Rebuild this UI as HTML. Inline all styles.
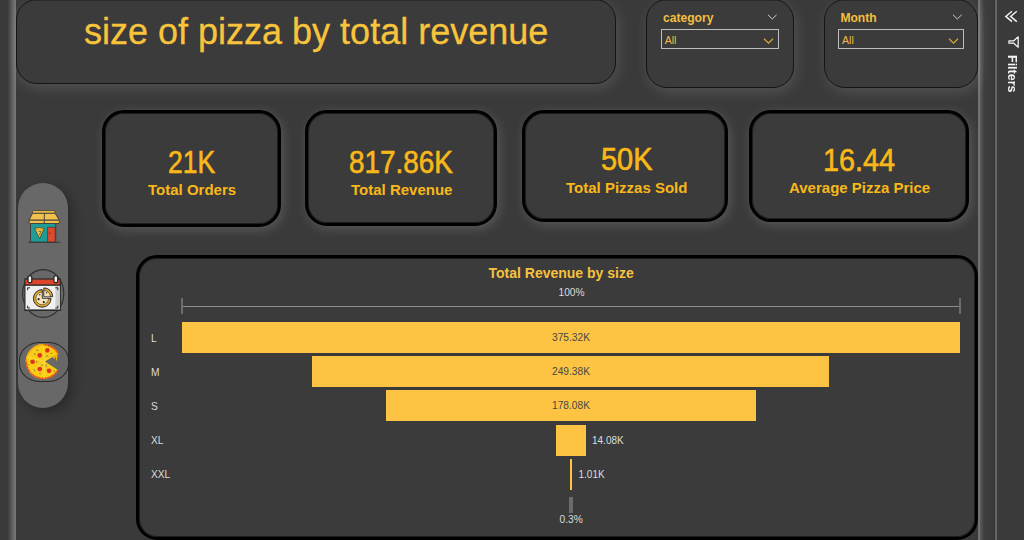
<!DOCTYPE html>
<html>
<head>
<meta charset="utf-8">
<style>
html,body{margin:0;padding:0;}
body{width:1024px;height:540px;overflow:hidden;background:#3a3a3a;position:relative;font-family:"Liberation Sans",sans-serif;}
.abs{position:absolute;}
#lstrip{left:0;top:0;width:16.4px;height:540px;background:linear-gradient(to right,#3a3a3a 0px,#3b3b3b 7.5px,#4a4a4a 9.5px,#626262 12.5px,#747474 15px,#7a7a7a 16.4px);}
#rstrip{left:977.5px;top:0;width:17.5px;height:540px;background:linear-gradient(to right,#606060 0px,#7a7a7a 0.8px,#727272 1.6px,#5c5c5c 2.2px,#4e4e4e 4px,#3d3d3d 6.3px,#3a3a3a 17.5px);}
#rline{left:995px;top:0;width:2px;height:540px;background:#666;box-shadow:-1px 0 0 #323232,1px 0 0 #323232;}
#fpane{left:997px;top:0;width:27px;height:540px;background:#3a3a3a;}
.box{box-sizing:border-box;border:1px solid #151515;background:#3b3b3b;}
#title{left:16px;top:-1px;width:600px;height:85px;border-radius:21px;box-shadow:2px 4px 14px rgba(255,255,255,0.13);}
#title span{position:absolute;left:67px;top:11px;font-size:36px;color:#f8c43c;-webkit-text-stroke:0.3px #f8c43c;white-space:nowrap;}
#slc1{left:646px;top:-1px;width:147.5px;height:89px;border-radius:21px;box-shadow:2px 4px 14px rgba(255,255,255,0.13);}
#slc2{left:824px;top:-1px;width:153.5px;height:89px;border-radius:21px;box-shadow:2px 4px 14px rgba(255,255,255,0.13);}
.slab{position:absolute;font-size:12.1px;font-weight:bold;color:#f4bf3f;top:11px;white-space:nowrap;}
.dd{position:absolute;box-sizing:border-box;border:1.5px solid #bdbdbd;height:20px;top:29px;}
.dd span{position:absolute;left:3px;top:4px;font-size:10.6px;color:#f0bd40;}
.card{box-sizing:border-box;border:3px solid #000;background:#3b3b3b;border-radius:22px;box-shadow:inset 0 0 0 1px rgba(0,0,0,0.5),2px 3px 12px rgba(255,255,255,0.16);}
.kv{position:absolute;font-size:30.5px;line-height:31px;-webkit-text-stroke:0.6px #f8b81a;color:#f8b81a;white-space:nowrap;transform-origin:0 0;}
.kl{position:absolute;font-size:15px;line-height:15px;font-weight:bold;color:#f8b81a;white-space:nowrap;}
#chart{left:136px;top:255px;width:842px;height:285px;box-sizing:border-box;border:3px solid #000;border-radius:21px;background:#3b3b3b;box-shadow:inset 0 0 0 1px rgba(0,0,0,0.5);}
.bar{position:absolute;background:#fdc343;height:31px;}
.cat{position:absolute;left:151px;font-size:10.2px;color:#dcdcdc;}
.val{position:absolute;font-size:10.2px;color:#474747;}
#pill{left:18px;top:182.5px;width:50px;height:225.5px;border-radius:25px;background:#686868;box-shadow:4px 4px 12px rgba(0,0,0,0.3);}
</style>
</head>
<body>
<div id="lstrip" class="abs"></div>
<div id="rstrip" class="abs"></div>
<div id="rline" class="abs"></div>
<div id="fpane" class="abs"></div>

<div class="abs" style="left:34px;top:0;width:564px;height:1px;background:rgba(0,0,0,0.28);z-index:2;"></div>
<div class="abs" style="left:664px;top:0;width:112px;height:1px;background:rgba(0,0,0,0.28);z-index:2;"></div>
<div class="abs" style="left:842px;top:0;width:118px;height:1px;background:rgba(0,0,0,0.28);z-index:2;"></div>
<div id="title" class="abs box"><span>size of pizza by total revenue</span></div>

<div id="slc1" class="abs box">
  <div class="slab" style="left:16px;">category</div>
  <svg class="abs" style="left:119.5px;top:13.5px" width="11" height="7" viewBox="0 0 11 7"><path d="M1 0.8 L5.3 5 L9.6 0.8" fill="none" stroke="#d0d0d0" stroke-width="1"/></svg>
  <div class="dd" style="left:13.7px;width:118.3px;"><span>All</span>
    <svg class="abs" style="left:101.5px;top:7.5px" width="12" height="7" viewBox="0 0 12 7"><path d="M1 0.8 L5.5 5.2 L10 0.8" fill="none" stroke="#d8a838" stroke-width="1.2"/></svg>
  </div>
</div>
<div id="slc2" class="abs box">
  <div class="slab" style="left:15.4px;">Month</div>
  <svg class="abs" style="left:126.5px;top:13.5px" width="11" height="7" viewBox="0 0 11 7"><path d="M1 0.8 L5.3 5 L9.6 0.8" fill="none" stroke="#d0d0d0" stroke-width="1"/></svg>
  <div class="dd" style="left:13px;width:126px;"><span>All</span>
    <svg class="abs" style="left:108.5px;top:7.5px" width="12" height="7" viewBox="0 0 12 7"><path d="M1 0.8 L5.5 5.2 L10 0.8" fill="none" stroke="#d8a838" stroke-width="1.2"/></svg>
  </div>
</div>

<!-- KPI cards -->
<div class="abs card" style="left:102px;top:110px;width:179px;height:117px;"></div>
<div class="abs card" style="left:305px;top:110px;width:192px;height:116px;"></div>
<div class="abs card" style="left:522px;top:110px;width:206px;height:112px;"></div>
<div class="abs card" style="left:749px;top:110px;width:220px;height:112px;"></div>
<div class="kv" style="left:168px;top:146.5px;transform:scaleX(0.87);">21K</div>
<div class="kv" style="left:349px;top:146.5px;transform:scaleX(0.915);">817.86K</div>
<div class="kv" style="left:601px;top:144px;transform:scaleX(0.95);">50K</div>
<div class="kv" style="left:822.5px;top:144.5px;transform:scaleX(0.945);">16.44</div>
<div class="kl" style="left:148px;top:182px;">Total Orders</div>
<div class="kl" style="left:351px;top:182px;">Total Revenue</div>
<div class="kl" style="left:566px;top:180px;">Total Pizzas Sold</div>
<div class="kl" style="left:789px;top:180px;">Average Pizza Price</div>
<!-- chart -->
<div id="chart" class="abs"></div>
<div class="abs" style="left:488.5px;top:265px;font-size:14px;font-weight:bold;color:#f7c23e;">Total Revenue by size</div>
<div class="abs" style="left:558.5px;top:287px;font-size:10.2px;color:#dcdcdc;">100%</div>
<div class="abs" style="left:183px;top:306px;width:776px;height:1px;background:#8e8e8e;"></div>
<div class="abs" style="left:181px;top:298px;width:2px;height:16px;background:#6c6c6c;"></div>
<div class="abs" style="left:959px;top:298px;width:2px;height:16px;background:#6c6c6c;"></div>

<div class="bar" style="left:182px;top:322px;width:778px;"></div>
<div class="bar" style="left:312px;top:356px;width:517px;"></div>
<div class="bar" style="left:386px;top:390px;width:370px;"></div>
<div class="bar" style="left:556px;top:425px;width:30px;"></div>
<div class="bar" style="left:570px;top:459px;width:2px;"></div>

<div class="cat" style="top:332.5px;">L</div>
<div class="cat" style="top:366.5px;">M</div>
<div class="cat" style="top:400.5px;">S</div>
<div class="cat" style="top:435px;">XL</div>
<div class="cat" style="top:469px;">XXL</div>

<div class="val" style="left:552px;top:332px;">375.32K</div>
<div class="val" style="left:552px;top:366px;">249.38K</div>
<div class="val" style="left:552px;top:400px;">178.08K</div>
<div class="abs" style="left:592px;top:435px;font-size:10px;color:#dcdcdc;">14.08K</div>
<div class="abs" style="left:578.5px;top:469px;font-size:10px;color:#dcdcdc;">1.01K</div>
<div class="abs" style="left:569px;top:497px;width:4px;height:16px;background:#6c6c6c;"></div>
<div class="abs" style="left:559.5px;top:514px;font-size:10.2px;color:#dcdcdc;">0.3%</div>

<!-- nav pill -->
<div id="pill" class="abs"></div>
<svg class="abs" style="left:24px;top:206px" width="40" height="40" viewBox="0 0 40 40">
  <rect x="6.5" y="17" width="25.3" height="19.2" fill="#1e9c95" stroke="#3a3a3a" stroke-width="0.9"/>
  <rect x="23.7" y="21.2" width="7.4" height="14.8" fill="#df4a2c" stroke="#3a3a3a" stroke-width="0.7"/>
  <circle cx="25.8" cy="27.3" r="0.7" fill="#3a3a3a"/>
  <path d="M10.6 22.6 Q15.4 20.2 20.2 22.6 L15.5 32.6 Z" fill="#f2c33c" stroke="#3a3a3a" stroke-width="0.7"/>
  <path d="M11.5 24.2 Q15.4 22.6 19.3 24.2" fill="none" stroke="#b8862a" stroke-width="0.6"/>
  <path d="M14.5 25.5 L17 25.5 L15.2 29.5" fill="none" stroke="#3a3a3a" stroke-width="0.6"/>
  <path d="M8.6 7.2 L31 7.2 L35.3 14.2 L5 14.2 Z" fill="#f2c04c" stroke="#3a3a3a" stroke-width="0.9"/>
  <rect x="8.5" y="4.6" width="22.6" height="2.6" rx="1" fill="#f2c04c" stroke="#3a3a3a" stroke-width="0.8"/>
  <rect x="5" y="14.2" width="30.5" height="3.3" rx="1.5" fill="#f2c04c" stroke="#3a3a3a" stroke-width="0.9"/>
  <line x1="20.3" y1="7.2" x2="20.3" y2="17.5" stroke="#3a3a3a" stroke-width="0.9"/>
  <line x1="4.4" y1="36.3" x2="36.3" y2="36.3" stroke="#3a3a3a" stroke-width="1"/>
</svg>
<svg class="abs" style="left:18px;top:266px" width="50" height="56" viewBox="0 0 50 56">
  <ellipse cx="25.2" cy="27.5" rx="20.6" ry="23.9" fill="none" stroke="#2e2e2e" stroke-width="1.1"/>
  <rect x="6.9" y="19" width="35.4" height="25.4" fill="#f0f0f0" stroke="#2a2a2a" stroke-width="1.2"/>
  <rect x="37.4" y="19.8" width="4.4" height="24.2" fill="#cfcfcf"/>
  <line x1="6.9" y1="44.2" x2="42.3" y2="44.2" stroke="#2a2a2a" stroke-width="1.6"/>
  <rect x="6.9" y="13" width="35.4" height="6" fill="#dc452b" stroke="#2a2a2a" stroke-width="1.2"/>
  <rect x="10" y="9.8" width="3.8" height="6.9" rx="1.4" fill="#f5f5f5" stroke="#262626" stroke-width="1.3"/>
  <rect x="35.9" y="9.8" width="3.8" height="6.9" rx="1.4" fill="#f5f5f5" stroke="#262626" stroke-width="1.3"/>
  <path d="M9.6 24.2 V21.8 H12 M37.4 21.8 H39.8 V24.2 M9.6 39.6 V42 H12 M37.4 42 H39.8 V39.6" fill="none" stroke="#2a2a2a" stroke-width="1"/>
  <path d="M24.2 32.4 L24.2 23.6 A8.8 8.8 0 1 0 33 32.4 Z" fill="#eaa92a" stroke="#2a2a2a" stroke-width="1"/>
  <path d="M24.2 32.4 L24.2 26 A6.4 6.4 0 1 0 30.6 32.4 Z" fill="#f3e2b4" stroke="#2a2a2a" stroke-width="0.6"/>
  <path d="M25.9 30.7 L25.9 21.9 A8.8 8.8 0 0 1 34.7 30.7 Z" fill="#eaa92a" stroke="#2a2a2a" stroke-width="1"/>
  <path d="M25.9 30.7 L25.9 24.3 A6.4 6.4 0 0 1 32.3 30.7 Z" fill="#f3e2b4" stroke="#2a2a2a" stroke-width="0.6"/>
  <circle cx="20.6" cy="33.2" r="1.1" fill="#2a2a2a"/><circle cx="25.8" cy="36.2" r="1.1" fill="#2a2a2a"/><circle cx="21.8" cy="28.8" r="0.7" fill="#2a2a2a"/><circle cx="28.6" cy="26.8" r="0.7" fill="#2a2a2a"/>
</svg>
<div class="abs" style="left:19px;top:342px;width:50px;height:40px;box-sizing:border-box;border:1.2px solid #2b2b2b;border-radius:21px/18px;"></div>
<svg class="abs" style="left:16px;top:338px" width="56" height="48" viewBox="0 0 56 48">
  <path d="M28.9 23.4 L42.65 15.38 A17.5 17.5 0 1 0 42.36 32.35 Z" fill="#fbcc14"/>
  <path d="M10.40 23.60 A16.8 16.8 0 0 1 27.20 6.80" fill="none" stroke="#f5a90f" stroke-width="1.4"/>
  <path d="M41.75 32.00 A16.8 16.8 0 0 1 10.40 23.60" fill="none" stroke="#e43a1a" stroke-width="1.5" stroke-dasharray="1.2 0.4"/>
  <path d="M27.20 6.80 A16.8 16.8 0 0 1 42.03 15.71" fill="none" stroke="#e43a1a" stroke-width="1.5" stroke-dasharray="1.2 0.4"/>
  <path d="M36.8 18.80 L38.2 21.58 L39.3 18.54 L40.6 23.38 L41.8 15.88 Z" fill="#f5b710"/>
  <path d="M28.9 23.4 L27 6.5 M28.9 23.4 L10.5 19 M28.9 23.4 L14 35 M28.9 23.4 L28 40.5" stroke="#ffe66a" stroke-width="0.7" opacity="0.7"/>
  <g fill="#de3324"><path d="M29.6 10.4 L32.6 10 L33.8 12.6 L32.4 14.6 L29.8 14.4 L29 12.2 Z"/><path d="M22 15.4 L25 15 L26.3 17.4 L25 19.6 L22.3 19.4 L21.3 17.2 Z"/><path d="M14.9 21.9 L17.9 21.5 L19.1 23.9 L17.8 26 L15.1 25.8 L14.2 23.6 Z"/><path d="M22 29.2 L25 28.8 L26.3 31.1 L25 33.3 L22.3 33.1 L21.3 30.9 Z"/><path d="M31.3 30.8 L34.3 30.4 L35.6 32.7 L34.3 34.9 L31.6 34.7 L30.6 32.5 Z"/></g>
  <g fill="none" stroke="#7c7040" stroke-width="0.8"><path d="M20 12.6 Q21.3 11.2 22.6 12.6"/><path d="M29.8 18.6 Q31.1 17.2 32.4 18.6"/><path d="M20.4 22.8 Q21.6 23.8 20.4 25"/><path d="M30.6 26.4 Q29.6 27.6 30.6 28.8"/><path d="M18 31.2 Q19.2 32.2 18 33.4"/></g>
  <g fill="#7c7040"><circle cx="18.7" cy="16" r="0.7"/><circle cx="35.4" cy="15.4" r="0.7"/><circle cx="26" cy="27" r="0.7"/><circle cx="24" cy="35.6" r="0.7"/><circle cx="38.2" cy="32.9" r="0.7"/><circle cx="13" cy="26.5" r="0.6"/></g>
</svg>

<!-- filter pane -->
<svg class="abs" style="left:1000px;top:5px" width="24" height="50" viewBox="1000 5 24 50">
  <path d="M1012 11.2 L1005.8 16.4 L1012 21.6 M1016.8 11.2 L1010.6 16.4 L1016.8 21.6" fill="none" stroke="#f4f4f4" stroke-width="1.4"/>
  <path d="M1018.2 36.8 L1018.2 47.2 L1013.8 43.2 L1008.9 43.2 L1008.9 40.8 L1013.8 40.8 Z" fill="none" stroke="#f2f2f2" stroke-width="1.25" stroke-linejoin="round"/><rect x="1009.6" y="41.5" width="4" height="1" fill="#9a9a9a"/>
</svg>
<div class="abs" style="left:1004px;top:55px;width:16px;height:40px;will-change:transform;">
  <div style="position:absolute;left:0;top:0;transform-origin:0 0;transform:translate(16px,0) rotate(90deg);font-size:12.5px;font-weight:bold;color:#f4f4f4;white-space:nowrap;line-height:16px;">Filters</div>
</div>
</body>
</html>
